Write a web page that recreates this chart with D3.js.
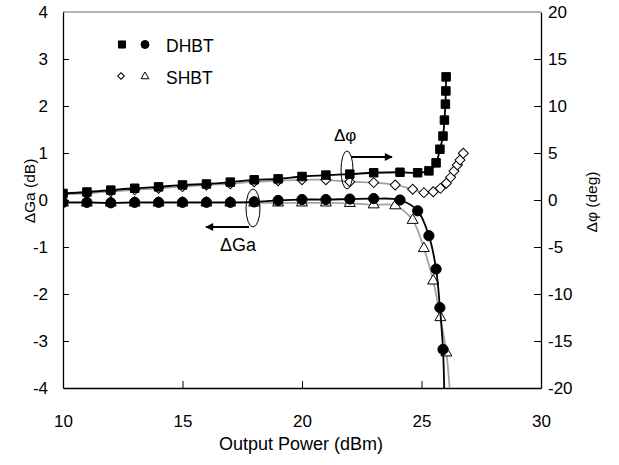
<!DOCTYPE html>
<html>
<head>
<meta charset="utf-8">
<script src="https://cdn.jsdelivr.net/npm/d3@7"></script>
<style>
  html, body { margin: 0; padding: 0; background: #fff; }
  svg { display: block; font-family: "Liberation Sans", Arial, sans-serif; }
</style>
</head>
<body>
<svg id="chart" width="619" height="465"></svg>
<script>
// Output power sweep (dBm) for each device
const dhbtPout = [10, 11, 12, 13, 14, 15, 16, 17, 18, 19, 20, 21, 22, 23,
                  24.1, 24.84, 25.31, 25.61, 25.77, 25.9, 25.96, 26.0, 26.02, 26.03];
const shbtPout = [10, 11, 12, 13, 14, 15, 16, 17, 18, 19, 20, 21, 22, 23,
                  23.9, 24.63, 25.1, 25.49, 25.79, 26.04, 26.22, 26.36, 26.5, 26.61, 26.75];

// Gain compression ΔGa (dB), left axis
const dhbtGain = [-0.05, -0.05, -0.06, -0.05, -0.05, -0.05, -0.05, -0.05, -0.04, -0.01,
                  0.01, 0.01, 0.02, 0.03, 0.0, -0.23, -0.76, -1.47, -2.29, -3.18, -4.3];
const shbtGain = [-0.06, -0.06, -0.06, -0.06, -0.06, -0.06, -0.06, -0.06, -0.06, -0.06,
                  -0.06, -0.06, -0.07, -0.1, -0.12, -0.43, -1.03, -1.72, -2.5, -3.25, -4.3];

// Phase deviation Δφ (deg), right axis
const dhbtPhase = [0.7, 0.85, 1.05, 1.25, 1.4, 1.6, 1.7, 1.9, 2.15, 2.25, 2.5, 2.65, 2.75, 2.9,
                   2.95, 2.9, 3.1, 3.95, 5.4, 6.8, 8.5, 10.2, 11.6, 13.1];
const shbtPhase = [0.6, 0.72, 0.9, 1.08, 1.25, 1.42, 1.6, 1.72, 1.95, 2.05, 2.15, 2.15, 1.95, 1.85,
                   1.6, 1.14, 0.78, 0.88, 1.24, 1.78, 2.41, 3.09, 3.72, 4.26, 4.97];

const xTicks = [10, 15, 20, 25, 30];
const gainTicks = [-4, -3, -2, -1, 0, 1, 2, 3, 4];
const phaseTicks = [-20, -15, -10, -5, 0, 5, 10, 15, 20];

const FONT = "'Liberation Sans', Arial, sans-serif";
const svg = d3.select("#chart");
const L = 63, R = 541, T = 12, B = 388;

const x = d3.scaleLinear().domain([10, 30]).range([L, R]);
const yG = d3.scaleLinear().domain([-4, 4]).range([B, T]);
const yP = d3.scaleLinear().domain([-20, 20]).range([B, T]);

const defs = svg.append("defs");
defs.append("clipPath").attr("id", "plot")
  .append("rect").attr("x", L).attr("y", T).attr("width", R - L).attr("height", B - T);
defs.append("marker")
  .attr("id", "arrow").attr("viewBox", "0 0 10 10").attr("refX", 9).attr("refY", 5)
  .attr("markerWidth", 11).attr("markerHeight", 8).attr("markerUnits", "userSpaceOnUse")
  .attr("orient", "auto")
  .append("path").attr("d", "M0,0 L10,5 L0,10 Z").attr("fill", "#000");

// frame: gray top edge, black axes
svg.append("line").attr("x1", L).attr("x2", R).attr("y1", T).attr("y2", T)
  .attr("stroke", "#9a9a9a").attr("stroke-width", 1.5);

const plain = d => String(d);

// axes with inward ticks
const axB = svg.append("g").attr("transform", `translate(0,${B})`)
  .call(d3.axisBottom(x).tickValues(xTicks).tickFormat(plain).tickSizeInner(-7).tickSizeOuter(0).tickPadding(27));
const axL = svg.append("g").attr("transform", `translate(${L},0)`)
  .call(d3.axisLeft(yG).tickValues(gainTicks).tickFormat(plain).tickSizeInner(-6).tickSizeOuter(0).tickPadding(15));
const axR = svg.append("g").attr("transform", `translate(${R},0)`)
  .call(d3.axisRight(yP).tickValues(phaseTicks).tickFormat(plain).tickSizeInner(-7).tickSizeOuter(0).tickPadding(7));

[axB, axL, axR].forEach(g => {
  g.select(".domain").attr("stroke", "#000").attr("stroke-width", 1.3);
  g.selectAll(".tick line").attr("stroke", "#000");
  g.selectAll(".tick text").attr("font-size", 17).attr("fill", "#000").attr("font-family", FONT);
});
axB.selectAll(".tick line").filter(d => d === 10 || d === 30).remove();
axL.selectAll(".tick line").filter(d => d === 4 || d === -4).remove();
axR.selectAll(".tick line").filter(d => d === 20 || d === -20).remove();

// axis titles
svg.append("text").attr("x", 301).attr("y", 450).attr("text-anchor", "middle")
  .attr("font-size", 18).text("Output Power (dBm)");
svg.append("text").attr("transform", "translate(34.5,191) rotate(-90)").attr("text-anchor", "middle")
  .attr("font-size", 15.5).text("ΔGa (dB)");
svg.append("text").attr("transform", "translate(597,202) rotate(-90)").attr("text-anchor", "middle")
  .attr("font-size", 15.5).text("Δφ (deg)");

const plot = svg.append("g").attr("clip-path", "url(#plot)");

function curve(xs, ys, yScale, color) {
  const pts = ys.map((v, i) => [xs[i], v]);
  plot.append("path")
    .attr("d", d3.line().x(d => x(d[0])).y(d => yScale(d[1])).curve(d3.curveCatmullRom.alpha(0.5))(pts))
    .attr("fill", "none").attr("stroke", color).attr("stroke-width", 1.8);
  return pts;
}

function markers(pts, yScale, type, size, fill, rotate) {
  const sym = d3.symbol().type(type).size(size);
  plot.append("g").selectAll("path").data(pts).join("path")
    .attr("d", sym)
    .attr("transform", d => `translate(${x(d[0])},${yScale(d[1])})` + (rotate ? ` rotate(${rotate})` : ""))
    .attr("fill", fill).attr("stroke", "#000").attr("stroke-width", 1);
}

// SHBT (gray fits, open markers)
const shP = curve(shbtPout, shbtPhase, yP, "#a3a3a3");
const shG = curve(shbtPout, shbtGain, yG, "#a3a3a3");
markers(shP, yP, d3.symbolSquare, 50, "#fff", 45);
markers(shG, yG, d3.symbolTriangle, 52, "#fff");

// DHBT (black fits, filled markers)
const dhP = curve(dhbtPout, dhbtPhase, yP, "#000");
const dhG = curve(dhbtPout, dhbtGain, yG, "#000");
markers(dhP, yP, d3.symbolSquare, 72, "#000");
markers(dhG, yG, d3.symbolCircle, 82, "#000");

// legend
const leg = svg.append("g");
function legSym(type, size, fill, cx, cy, rot) {
  leg.append("path").attr("d", d3.symbol().type(type).size(size)())
    .attr("transform", `translate(${cx},${cy})` + (rot ? ` rotate(${rot})` : ""))
    .attr("fill", fill).attr("stroke", "#000").attr("stroke-width", 1);
}
legSym(d3.symbolSquare, 50, "#000", 122, 44.5);
legSym(d3.symbolCircle, 50, "#000", 145, 44.5);
legSym(d3.symbolSquare, 22, "#fff", 121, 76, 45);
legSym(d3.symbolTriangle, 26, "#fff", 145, 76.5);
leg.append("text").attr("x", 166).attr("y", 51.5).attr("font-size", 17.5).text("DHBT");
leg.append("text").attr("x", 166).attr("y", 84).attr("font-size", 17.5).text("SHBT");

// annotations: loops pointing each curve to its axis
const ann = svg.append("g").attr("fill", "none").attr("stroke", "#000").attr("stroke-width", 1);
ann.append("ellipse").attr("cx", 347).attr("cy", 170).attr("rx", 6).attr("ry", 19);
ann.append("line").attr("x1", 351).attr("y1", 157).attr("x2", 392).attr("y2", 157)
  .attr("stroke-width", 2).attr("marker-end", "url(#arrow)");
ann.append("ellipse").attr("cx", 253).attr("cy", 208).attr("rx", 7).attr("ry", 19);
ann.append("line").attr("x1", 249).attr("y1", 227).attr("x2", 206).attr("y2", 227)
  .attr("stroke-width", 2).attr("marker-end", "url(#arrow)");

svg.append("text").attr("x", 334).attr("y", 141).attr("font-size", 17).text("Δφ");
svg.append("text").attr("x", 220).attr("y", 251).attr("font-size", 18).text("ΔGa");
</script>
</body>
</html>
